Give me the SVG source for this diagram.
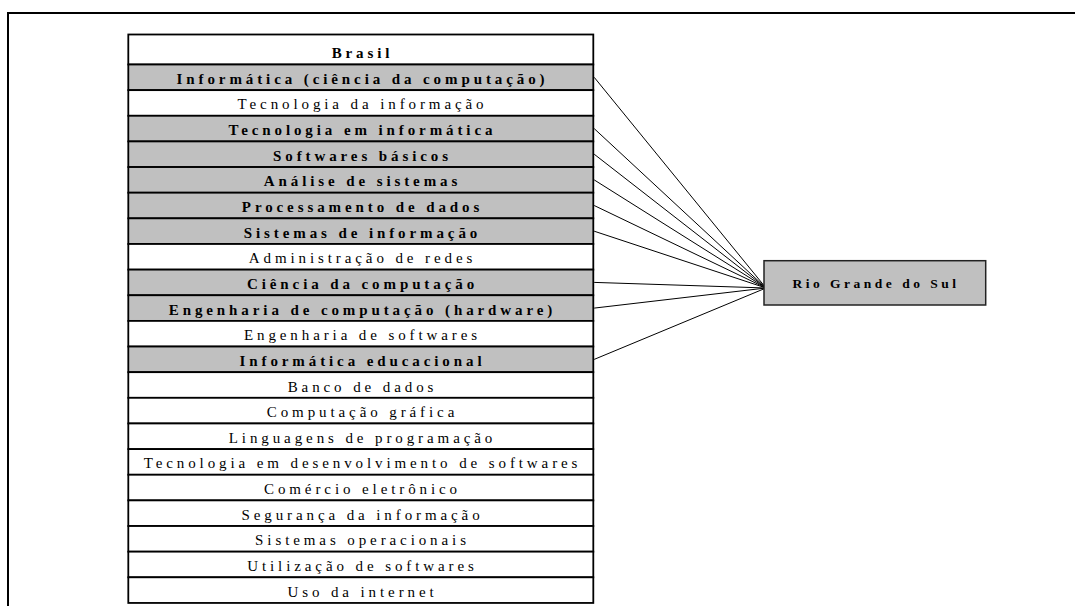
<svg xmlns="http://www.w3.org/2000/svg" width="1075" height="606" viewBox="0 0 1075 606">
<style>
.frame{fill:none;stroke:#000;stroke-width:2}
.row{stroke:#000;stroke-width:1.8}
.w{fill:#fff}
.g{fill:#c0c0c0}
.t{font-family:"Liberation Serif","Times New Roman",serif;font-size:15px;letter-spacing:3.9px;text-anchor:middle;fill:#000}
.b{font-weight:bold}
.conn line{stroke:#000;stroke-width:1}
.rgs{fill:#c0c0c0;stroke:#222;stroke-width:1.5}
.rt{font-family:"Liberation Serif","Times New Roman",serif;font-size:13.5px;font-weight:bold;letter-spacing:3.5px;text-anchor:middle;fill:#000}
</style>
<rect width="1075" height="606" fill="#fff"/>
<rect class="frame" x="8" y="13" width="1085" height="620"/>
<g id="brasil"><rect class="row w" x="128.3" y="34.5" width="465" height="30"/><text class="t b" x="362.5" y="57.5">Brasil</text></g>
<g id="r0"><rect class="row g" x="128.3" y="64.5" width="465" height="25.64"/><text class="t b" x="362.5" y="83.8">Informática (ciência da computação)</text></g>
<g id="r1"><rect class="row w" x="128.3" y="90.14" width="465" height="25.64"/><text class="t" x="362.5" y="109.4">Tecnologia da informação</text></g>
<g id="r2"><rect class="row g" x="128.3" y="115.78" width="465" height="25.64"/><text class="t b" x="362.5" y="135.1">Tecnologia em informática</text></g>
<g id="r3"><rect class="row g" x="128.3" y="141.42" width="465" height="25.64"/><text class="t b" x="362.5" y="160.7">Softwares básicos</text></g>
<g id="r4"><rect class="row g" x="128.3" y="167.06" width="465" height="25.64"/><text class="t b" x="362.5" y="186.4">Análise de sistemas</text></g>
<g id="r5"><rect class="row g" x="128.3" y="192.7" width="465" height="25.64"/><text class="t b" x="362.5" y="212">Processamento de dados</text></g>
<g id="r6"><rect class="row g" x="128.3" y="218.34" width="465" height="25.64"/><text class="t b" x="362.5" y="237.6">Sistemas de informação</text></g>
<g id="r7"><rect class="row w" x="128.3" y="243.98" width="465" height="25.64"/><text class="t" x="362.5" y="263.3">Administração de redes</text></g>
<g id="r8"><rect class="row g" x="128.3" y="269.62" width="465" height="25.64"/><text class="t b" x="362.5" y="288.9">Ciência da computação</text></g>
<g id="r9"><rect class="row g" x="128.3" y="295.26" width="465" height="25.64"/><text class="t b" x="362.5" y="314.6">Engenharia de computação (hardware)</text></g>
<g id="r10"><rect class="row w" x="128.3" y="320.9" width="465" height="25.64"/><text class="t" x="362.5" y="340.2">Engenharia de softwares</text></g>
<g id="r11"><rect class="row g" x="128.3" y="346.54" width="465" height="25.64"/><text class="t b" x="362.5" y="365.8">Informática educacional</text></g>
<g id="r12"><rect class="row w" x="128.3" y="372.18" width="465" height="25.64"/><text class="t" x="362.5" y="391.5">Banco de dados</text></g>
<g id="r13"><rect class="row w" x="128.3" y="397.82" width="465" height="25.64"/><text class="t" x="362.5" y="417.1">Computação gráfica</text></g>
<g id="r14"><rect class="row w" x="128.3" y="423.46" width="465" height="25.64"/><text class="t" x="362.5" y="442.8">Linguagens de programação</text></g>
<g id="r15"><rect class="row w" x="128.3" y="449.1" width="465" height="25.64"/><text class="t" x="362.5" y="468.4">Tecnologia em desenvolvimento de softwares</text></g>
<g id="r16"><rect class="row w" x="128.3" y="474.74" width="465" height="25.64"/><text class="t" x="362.5" y="494">Comércio eletrônico</text></g>
<g id="r17"><rect class="row w" x="128.3" y="500.38" width="465" height="25.64"/><text class="t" x="362.5" y="519.7">Segurança da informação</text></g>
<g id="r18"><rect class="row w" x="128.3" y="526.02" width="465" height="25.64"/><text class="t" x="362.5" y="545.3">Sistemas operacionais</text></g>
<g id="r19"><rect class="row w" x="128.3" y="551.66" width="465" height="25.64"/><text class="t" x="362.5" y="571">Utilização de softwares</text></g>
<g id="r20"><rect class="row w" x="128.3" y="577.3" width="465" height="25.64"/><text class="t" x="362.5" y="596.6">Uso da internet</text></g>
<g id="connectors" class="conn">
<line x1="594.2" y1="77.3" x2="766" y2="288"/>
<line x1="594.2" y1="128.6" x2="766" y2="288"/>
<line x1="594.2" y1="154.2" x2="766" y2="288"/>
<line x1="594.2" y1="179.9" x2="766" y2="288"/>
<line x1="594.2" y1="205.5" x2="766" y2="288"/>
<line x1="594.2" y1="231.2" x2="766" y2="288"/>
<line x1="594.2" y1="282.4" x2="766" y2="288"/>
<line x1="594.2" y1="308.1" x2="766" y2="288"/>
<line x1="594.2" y1="359.4" x2="766" y2="288"/>
</g>
<g id="rio-grande-do-sul"><rect class="rgs" x="764" y="260.7" width="221.7" height="44.3"/><text class="rt" x="876" y="287.5">Rio Grande do Sul</text></g>
</svg>
